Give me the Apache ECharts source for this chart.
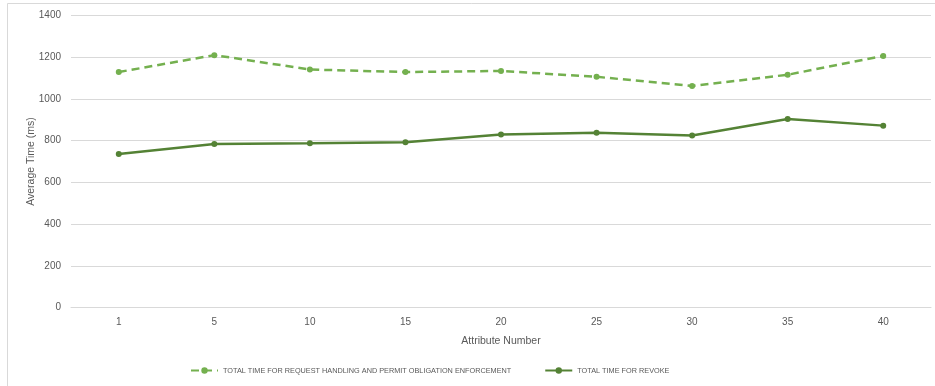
<!DOCTYPE html>
<html>
<head>
<meta charset="utf-8">
<script src="https://cdn.jsdelivr.net/npm/echarts@6/dist/echarts.min.js"></script>
<style>
  html, body { margin: 0; padding: 0; background: #fff; }
  #chart { width: 935px; height: 386px; }
</style>
</head>
<body>
<div id="chart"></div>
<script>
// Attribute counts on the x axis
const attributes = ['1', '5', '10', '15', '20', '25', '30', '35', '40'];

// Average times in milliseconds
const requestHandlingTimes = [1129, 1210, 1141, 1129, 1134, 1106, 1062, 1116, 1206];
const revokeTimes = [736, 784, 787, 792, 830, 838, 825, 904, 872];

const seriesNames = [
  'TOTAL TIME FOR REQUEST HANDLING AND PERMIT OBLIGATION ENFORCEMENT',
  'TOTAL TIME FOR REVOKE'
];

const textColor = '#595959';
const font = '"Liberation Sans", Arial, sans-serif';

const chart = echarts.init(document.getElementById('chart'), null, { renderer: 'canvas' });

chart.setOption({
  backgroundColor: '#ffffff',
  animation: false,
  graphic: [{
    type: 'rect',
    shape: { x: 7.5, y: 3.5, width: 940, height: 400 },
    style: { fill: 'none', stroke: '#d9d9d9', lineWidth: 1 },
    silent: true
  }],
  grid: { left: 71, right: 4, top: 15.5, height: 292 },
  legend: {
    bottom: 7,
    left: 185,
    itemGap: 33,
    itemWidth: 27,
    itemHeight: 8,
    textStyle: { color: textColor, fontSize: 7.3, fontFamily: font },
    data: seriesNames
  },
  xAxis: {
    type: 'category',
    data: attributes,
    boundaryGap: true,
    name: 'Attribute Number',
    nameLocation: 'middle',
    nameGap: 28,
    nameTextStyle: { color: textColor, fontSize: 10.5, fontFamily: font },
    axisLine: { show: true, lineStyle: { color: '#d9d9d9' } },
    axisTick: { show: false },
    axisLabel: { color: textColor, fontSize: 10, fontFamily: font, margin: 10 }
  },
  yAxis: {
    type: 'value',
    min: 0,
    max: 1400,
    interval: 200,
    name: 'Average Time (ms)',
    nameLocation: 'middle',
    nameGap: 34,
    nameMoveOverlap: false,
    nameTextStyle: { color: textColor, fontSize: 10.5, fontFamily: font },
    axisLine: { show: false },
    axisTick: { show: false },
    axisLabel: {
      color: textColor, fontSize: 10, fontFamily: font, margin: 10,
      formatter: (v) => String(v)
    },
    splitLine: { lineStyle: { color: '#d9d9d9', width: 1 } }
  },
  series: [
    {
      name: seriesNames[0],
      type: 'line',
      data: requestHandlingTimes,
      symbol: 'circle',
      symbolSize: 6,
      itemStyle: { color: '#74b04f' },
      lineStyle: { color: '#74b04f', width: 2.5, type: [8, 5] }
    },
    {
      name: seriesNames[1],
      type: 'line',
      data: revokeTimes,
      symbol: 'circle',
      symbolSize: 6,
      itemStyle: { color: '#548235' },
      lineStyle: { color: '#548235', width: 2.5 }
    }
  ]
});
</script>
</body>
</html>
